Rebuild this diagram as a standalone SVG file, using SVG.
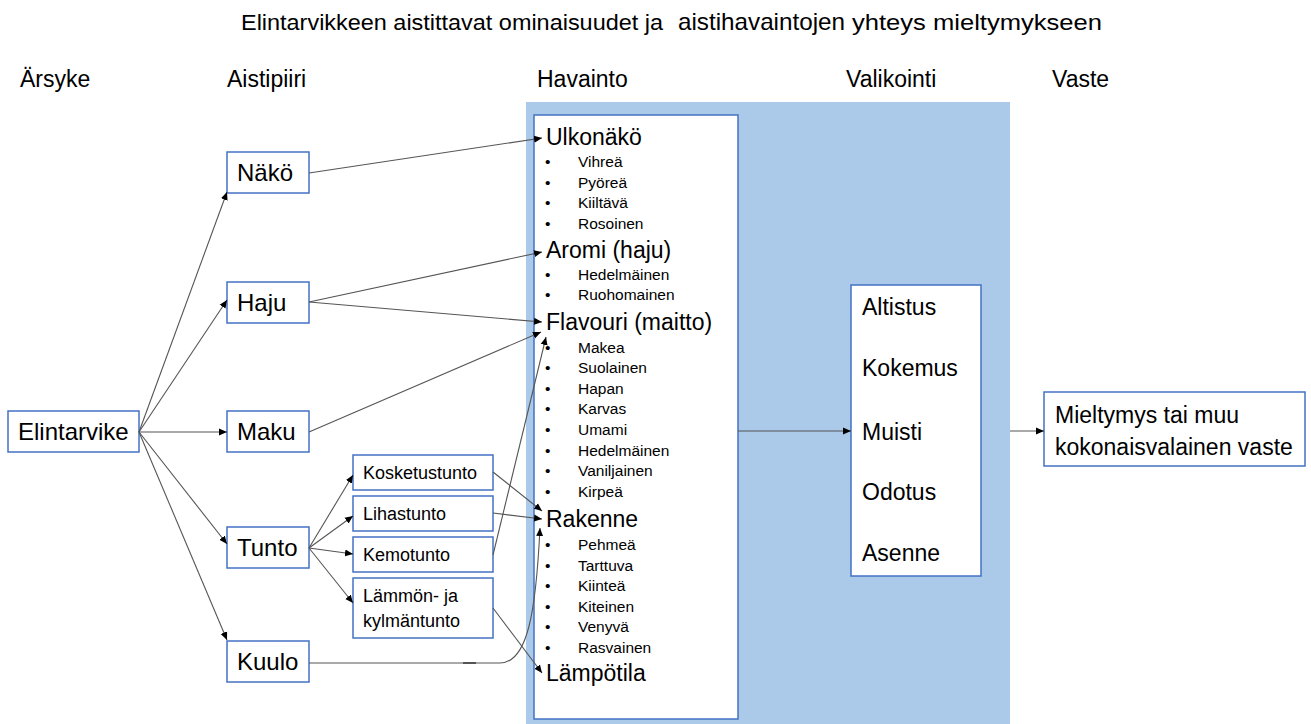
<svg xmlns="http://www.w3.org/2000/svg" width="1311" height="724" viewBox="0 0 1311 724">
<defs>
<marker id="ah" markerUnits="userSpaceOnUse" markerWidth="9" markerHeight="8" refX="8" refY="4" orient="auto">
<path d="M0,0.5 L8,4 L0,7.5 z" fill="#000"/>
</marker>
<style>
text{font-family:"Liberation Sans",Arial,sans-serif;fill:#000}
.box{fill:#fff;stroke:#4472c4;stroke-width:1.5}
.n{font-size:24px}
.v{font-size:23px}
.s{font-size:18px}
.h{font-size:23px}
.t{font-size:22px}
.hd{font-size:23px}
.it{font-size:15.5px}
.c{fill:none;stroke:#555;stroke-width:1.1;marker-end:url(#ah)}
</style>
</defs>
<rect width="1311" height="724" fill="#fff"/>

<g id="title">
<text class="t" x="241" y="30" textLength="422" lengthAdjust="spacingAndGlyphs">Elintarvikkeen aistittavat ominaisuudet ja</text>
<text x="678" y="30" style="font-size:24px" textLength="167" lengthAdjust="spacingAndGlyphs">aistihavaintojen</text>
<text class="t" x="852" y="30" textLength="250" lengthAdjust="spacingAndGlyphs">yhteys mieltymykseen</text>
</g>

<g id="headers">
<text class="h" x="20" y="87">Ärsyke</text>
<text class="h" x="227" y="87">Aistipiiri</text>
<text class="h" x="537" y="87">Havainto</text>
<text class="h" x="846" y="87">Valikointi</text>
<text class="h" x="1052" y="87">Vaste</text>
</g>

<rect id="blue-region" x="526" y="102" width="484" height="622" fill="#abc9e8"/>

<g id="elintarvike"><rect class="box" x="8" y="411" width="131" height="41"/><text class="n" x="18" y="440">Elintarvike</text></g>
<g id="nako"><rect class="box" x="227" y="152" width="82" height="41"/><text class="n" x="237" y="181">Näkö</text></g>
<g id="haju"><rect class="box" x="227" y="282" width="82" height="41"/><text class="n" x="237" y="311">Haju</text></g>
<g id="maku"><rect class="box" x="227" y="411" width="82" height="41"/><text class="n" x="237" y="440">Maku</text></g>
<g id="tunto"><rect class="box" x="227" y="527" width="82" height="41"/><text class="n" x="237" y="556">Tunto</text></g>
<g id="kuulo"><rect class="box" x="227" y="641" width="82" height="41"/><text class="n" x="237" y="670">Kuulo</text></g>

<g id="kosketustunto"><rect class="box" x="353" y="455" width="140" height="35"/><text class="s" x="363" y="479">Kosketustunto</text></g>
<g id="lihastunto"><rect class="box" x="353" y="496" width="140" height="35"/><text class="s" x="363" y="520">Lihastunto</text></g>
<g id="kemotunto"><rect class="box" x="353" y="537" width="140" height="35"/><text class="s" x="363" y="561">Kemotunto</text></g>
<g id="lammon"><rect class="box" x="353" y="578" width="140" height="60"/><text class="s" x="363" y="602">Lämmön- ja</text><text class="s" x="363" y="627">kylmäntunto</text></g>

<g id="havainto">
<rect class="box" x="534" y="115" width="204" height="604"/>
<text class="hd" x="546" y="145">Ulkonäkö</text>
<text class="it" x="545" y="167">•</text><text class="it" x="578" y="167">Vihreä</text>
<text class="it" x="545" y="188">•</text><text class="it" x="578" y="188">Pyöreä</text>
<text class="it" x="545" y="208">•</text><text class="it" x="578" y="208">Kiiltävä</text>
<text class="it" x="545" y="229">•</text><text class="it" x="578" y="229">Rosoinen</text>
<text class="hd" x="546" y="258">Aromi (haju)</text>
<text class="it" x="545" y="280">•</text><text class="it" x="578" y="280">Hedelmäinen</text>
<text class="it" x="545" y="300">•</text><text class="it" x="578" y="300">Ruohomainen</text>
<text class="hd" x="546" y="330">Flavouri (maitto)</text>
<text class="it" x="545" y="353">•</text><text class="it" x="578" y="353">Makea</text>
<text class="it" x="545" y="373">•</text><text class="it" x="578" y="373">Suolainen</text>
<text class="it" x="545" y="394">•</text><text class="it" x="578" y="394">Hapan</text>
<text class="it" x="545" y="414">•</text><text class="it" x="578" y="414">Karvas</text>
<text class="it" x="545" y="435">•</text><text class="it" x="578" y="435">Umami</text>
<text class="it" x="545" y="456">•</text><text class="it" x="578" y="456">Hedelmäinen</text>
<text class="it" x="545" y="476">•</text><text class="it" x="578" y="476">Vaniljainen</text>
<text class="it" x="545" y="497">•</text><text class="it" x="578" y="497">Kirpeä</text>
<text class="hd" x="546" y="527">Rakenne</text>
<text class="it" x="545" y="550">•</text><text class="it" x="578" y="550">Pehmeä</text>
<text class="it" x="545" y="571">•</text><text class="it" x="578" y="571">Tarttuva</text>
<text class="it" x="545" y="591">•</text><text class="it" x="578" y="591">Kiinteä</text>
<text class="it" x="545" y="612">•</text><text class="it" x="578" y="612">Kiteinen</text>
<text class="it" x="545" y="632">•</text><text class="it" x="578" y="632">Venyvä</text>
<text class="it" x="545" y="653">•</text><text class="it" x="578" y="653">Rasvainen</text>
<text class="hd" x="546" y="681">Lämpötila</text>
</g>

<g id="valikointi">
<rect class="box" x="851" y="285" width="130" height="291"/>
<text class="v" x="862" y="315">Altistus</text>
<text class="v" x="862" y="376">Kokemus</text>
<text class="v" x="862" y="440">Muisti</text>
<text class="v" x="862" y="500">Odotus</text>
<text class="v" x="862" y="561">Asenne</text>
</g>

<g id="vaste">
<rect class="box" x="1044" y="392" width="261" height="74"/>
<text class="v" x="1055" y="423">Mieltymys tai muu</text>
<text class="v" x="1055" y="455">kokonaisvalainen vaste</text>
</g>

<g id="connectors">
<line class="c" x1="139" y1="432" x2="227" y2="192"/>
<line class="c" x1="139" y1="432" x2="227" y2="300"/>
<line class="c" x1="139" y1="432" x2="227" y2="432"/>
<line class="c" x1="139" y1="432" x2="227" y2="544"/>
<line class="c" x1="139" y1="432" x2="227" y2="640"/>
<line class="c" x1="309" y1="173" x2="542" y2="138"/>
<line class="c" x1="309" y1="302" x2="542" y2="252"/>
<line class="c" x1="309" y1="302" x2="542" y2="322"/>
<line class="c" x1="309" y1="432" x2="541" y2="332"/>
<line class="c" x1="309" y1="548" x2="353" y2="475"/>
<line class="c" x1="309" y1="548" x2="353" y2="516"/>
<line class="c" x1="309" y1="548" x2="353" y2="554"/>
<line class="c" x1="309" y1="548" x2="353" y2="603"/>
<line class="c" x1="493" y1="472" x2="542" y2="511"/>
<line class="c" x1="493" y1="513" x2="542" y2="519"/>
<line class="c" x1="493" y1="555" x2="546" y2="337"/>
<line class="c" x1="493" y1="608" x2="542" y2="673"/>
<path class="c" d="M309,663 L500,663 C528,663 536,610 540,528"/>
<line x1="463" y1="663" x2="476" y2="663" stroke="#555" stroke-width="2"/>
<line class="c" x1="738" y1="431" x2="851" y2="431"/>
<line class="c" x1="1010" y1="431" x2="1044" y2="431"/>
</g>
</svg>
